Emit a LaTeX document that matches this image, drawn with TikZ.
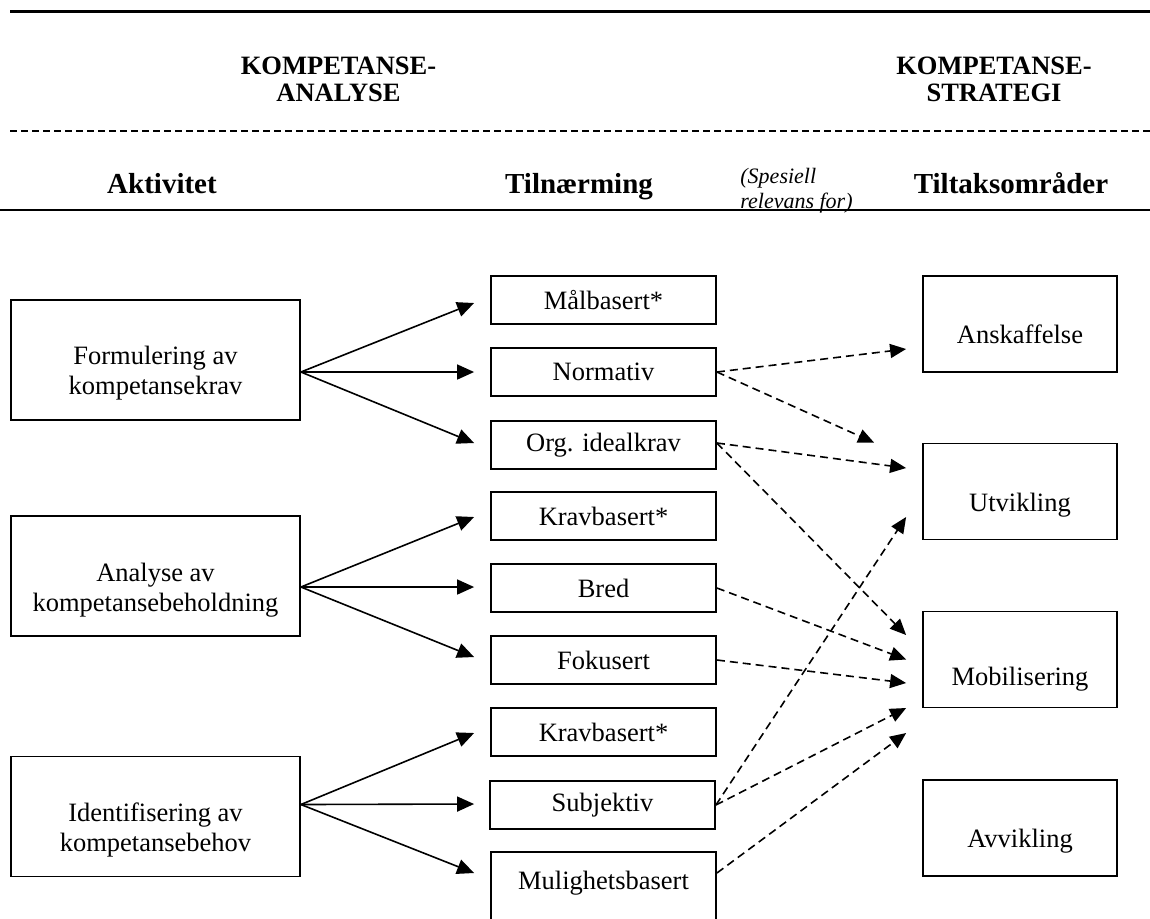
\documentclass[tikz,border=0pt]{standalone}
\usepackage{fontspec}
\setmainfont{Liberation Serif}
\usetikzlibrary{arrows.meta}

% font sizes used in the chart
\newcommand\diagfont{\fontsize{13.25}{15}\selectfont}
\newcommand\headfont{\fontsize{13.25}{13.5}\selectfont\bfseries}
\newcommand\colfont{\fontsize{14.5}{16}\selectfont\bfseries}
\newcommand\notefont{\fontsize{11}{12.5}\selectfont\itshape}
% lowers a label inside its box without changing the box size
\newcommand\dropby[2]{\raisebox{-#1}[0.7em][0.2em]{#2}}

\begin{document}
\begin{tikzpicture}[x=0.5pt,y=-0.5pt,
  box/.style={draw, line width=0.9pt, inner sep=0pt, font=\diagfont, align=center},
  lbox/.style={box, minimum width=144.5pt, minimum height=60pt},
  mbox/.style={box, minimum width=112.5pt, minimum height=24pt},
  rbox/.style={box, minimum width=97pt, minimum height=48pt},
  ltext/.style={font=\diagfont, align=center, inner sep=0pt},
  colhead/.style={font=\colfont, anchor=base, inner sep=0pt},
  sarr/.style={line width=0.8pt, -{Triangle[length=8.5pt,width=7.5pt]}},
  darr/.style={line width=0.8pt, dash pattern=on 4pt off 2.5pt, -{Triangle[length=8pt,width=7pt]}}
]
\path[use as bounding box] (0,0) rectangle (1150,918);
\clip (0,0) rectangle (1150,918);

% header rules
\draw[line width=1.5pt] (10,11) -- (1150,11);
\draw[line width=0.6pt, dash pattern=on 3.3pt off 2.2pt] (10,131) -- (1150,131);
\draw[line width=1pt] (0,210) -- (1150,210);

% header texts
\node[font=\headfont, align=center] (hanalyse) at (338.5,79) {KOMPETANSE-\\ANALYSE};
\node[font=\headfont, align=center] (hstrategi) at (994,79) {KOMPETANSE-\\STRATEGI};
\node[colhead] (haktivitet) at (162,193) {Aktivitet};
\node[colhead] (htilnaerming) at (579,193) {Tilnærming};
\node[font=\notefont, align=left, anchor=west, inner sep=0pt] (hrelevans) at (740,191) {(Spesiell\\relevans for)};
\node[colhead] (htiltak) at (1011,193) {Tiltaksområder};

% activities
\node[lbox] (form) at (155.5,360) {};
\node[ltext] (formtxt) at (155.5,373) {Formulering av\\kompetansekrav};
\node[lbox] (anal) at (155.5,576) {};
\node[ltext] (analtxt) at (155.5,590) {Analyse av\\kompetansebeholdning};
\node[lbox] (ident) at (155.5,816.5) {};
\node[ltext] (identtxt) at (155.5,830) {Identifisering av\\kompetansebehov};

% approaches
\node[mbox] (malb)  at (603.5,300) {Målbasert*};
\node[mbox] (norm)  at (603.5,372) {Normativ};
\node[mbox] (org)   at (603.5,445) {Org. idealkrav};
\node[mbox] (krav1) at (603.5,516) {Kravbasert*};
\node[mbox] (bred)  at (603.5,588) {Bred};
\node[mbox] (fok)   at (603.5,660) {Fokusert};
\node[mbox] (krav2) at (603.5,732) {Kravbasert*};
\node[mbox] (subj)  at (602.5,805) {Subjektiv};
\node[box, minimum width=112.5pt, text height=18.5pt, text depth=20.5pt, anchor=base] (mul) at (603.5,889) {Mulighetsbasert};

% areas of action
\node[rbox] (ansk) at (1020,324)   {\dropby{6.3pt}{Anskaffelse}};
\node[rbox] (utv)  at (1020,491.5) {\dropby{6.5pt}{Utvikling}};
\node[rbox] (mob)  at (1020,659.5) {\dropby{9.8pt}{Mobilisering}};
\node[rbox] (avv)  at (1020,828)   {\dropby{6.3pt}{Avvikling}};

% activity -> approach
\draw[sarr] ([yshift=-6pt]form.east) -- ([xshift=-8pt,yshift=-1.5pt]malb.west);
\draw[sarr] ([yshift=-6pt]form.east) -- ([xshift=-8pt]norm.west);
\draw[sarr] ([yshift=-6pt]form.east) -- ([xshift=-8pt,yshift=1pt]org.west);
\draw[sarr] ([yshift=-5.5pt]anal.east) -- ([xshift=-8pt,yshift=-0.5pt]krav1.west);
\draw[sarr] ([yshift=-5.5pt]anal.east) -- ([xshift=-8pt,yshift=0.5pt]bred.west);
\draw[sarr] ([yshift=-5.5pt]anal.east) -- ([xshift=-8pt,yshift=1.5pt]fok.west);
\draw[sarr] ([yshift=6pt]ident.east) -- ([xshift=-8pt,yshift=-0.5pt]krav2.west);
\draw[sarr] ([yshift=6pt]ident.east) -- ([xshift=-7.5pt,yshift=0.5pt]subj.west);
\draw[sarr] ([yshift=6pt]ident.east) -- ([xshift=-8pt,yshift=9pt]mul.west);

% approach -> area of action
\draw[darr] (norm.east) -- ([xshift=-8pt,yshift=-12.5pt]ansk.west);
\draw[darr] (norm.east) -- ([xshift=-24pt]utv.north west);
\draw[darr] ([yshift=1pt]org.east) -- ([xshift=-8pt,yshift=11.75pt]utv.west);
\draw[darr] ([yshift=1pt]org.east) -- ([xshift=-8pt,yshift=12.25pt]mob.west);
\draw[darr] (bred.east) -- ([xshift=-8pt]mob.west);
\draw[darr] (fok.east) -- ([xshift=-8pt,yshift=-11.75pt]mob.west);
\draw[darr] (subj.east) -- ([xshift=-8pt,yshift=-12.75pt]utv.west);
\draw[darr] (subj.east) -- ([xshift=-8pt,yshift=-24.25pt]mob.west);
\draw[darr] ([yshift=9pt]mul.east) -- ([xshift=-8pt,yshift=-36.75pt]mob.west);
\end{tikzpicture}
\end{document}
